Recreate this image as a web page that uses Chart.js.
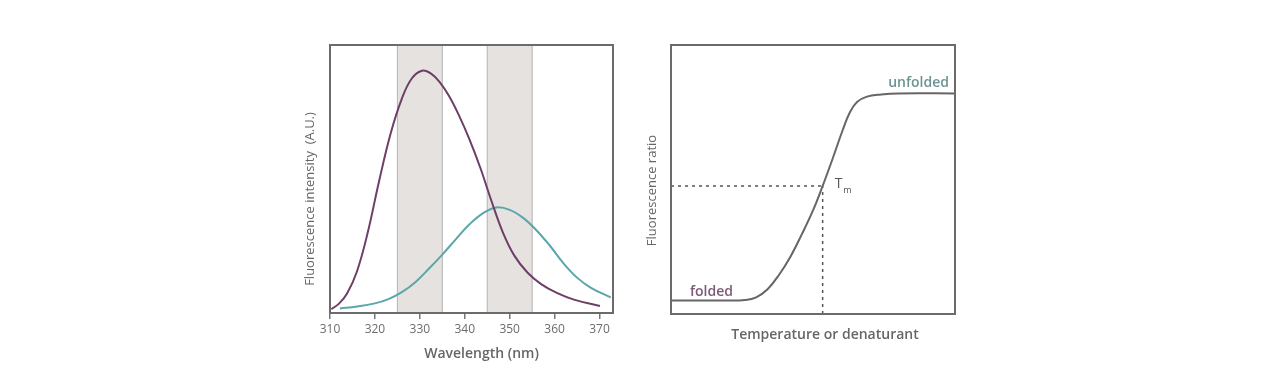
<!DOCTYPE html>
<html>
<head>
<meta charset="utf-8">
<script src="https://cdn.jsdelivr.net/npm/chart.js@4"></script>
<style>
  body { margin: 0; background: #fff; }
  #wrap { position: relative; width: 1270px; height: 379px; }
  #spectra { position: absolute; left: 0; top: 0; }
  #melt { position: absolute; left: 640px; top: 0; }
</style>
</head>
<body>
<div id="wrap">
  <canvas id="spectra" width="640" height="379"></canvas>
  <canvas id="melt" width="630" height="379"></canvas>
</div>
<script>
// left panel: emission spectra (nm, arbitrary units)
const wlTicks = [310, 320, 330, 340, 350, 360, 370];
const bands = [[325, 335], [345, 355]];
const foldedSpec = [
  [310.3, 0.014], [312, 0.035], [313.8, 0.073], [316, 0.155], [318.4, 0.3],
  [320.9, 0.49], [323.5, 0.67], [326, 0.8], [328.2, 0.875], [330.5, 0.904],
  [332.5, 0.893], [334.5, 0.86], [336.5, 0.81], [338.5, 0.745], [341, 0.65],
  [343.5, 0.54], [346, 0.415], [348.5, 0.3], [351, 0.215], [354, 0.15],
  [357, 0.108], [360.5, 0.075], [364.3, 0.05], [370.1, 0.026]
];
const unfoldedSpec = [
  [312.2, 0.017], [316, 0.024], [320, 0.036], [323, 0.052], [326, 0.078],
  [329, 0.115], [332, 0.165], [335, 0.218], [338, 0.275], [341, 0.33],
  [344, 0.372], [347, 0.394], [350, 0.385], [353, 0.355], [356, 0.308],
  [359, 0.25], [362, 0.185], [365, 0.132], [368, 0.095], [372.5, 0.058]
];

// right panel: melting curve (relative units)
const meltCurve = [
  [0, 0.05], [20, 0.05], [26, 0.052], [30, 0.062], [34, 0.092], [38, 0.145],
  [42, 0.212], [46, 0.295], [50, 0.385], [53.4, 0.476], [57, 0.58], [60.5, 0.685],
  [63, 0.75], [65.5, 0.788], [69, 0.808], [74, 0.816], [80, 0.82], [100, 0.82]
];
const tmX = 53.4;
const tmY = 0.476;

const pts = arr => arr.map(p => ({ x: p[0], y: p[1] }));
const boxColor = '#6b6b6b';

const boxPlugin = {
  id: 'box',
  beforeDatasetsDraw(chart, args, opts) {
    const ctx = chart.ctx, a = chart.chartArea, xs = chart.scales.x;
    (opts.bands || []).forEach(b => {
      const x0 = xs.getPixelForValue(b[0]), x1 = xs.getPixelForValue(b[1]);
      ctx.save();
      ctx.fillStyle = '#e6e2e0';
      ctx.fillRect(x0, a.top, x1 - x0, a.bottom - a.top);
      ctx.strokeStyle = '#b3b3b3';
      ctx.lineWidth = 1;
      ctx.beginPath();
      ctx.moveTo(x0, a.top); ctx.lineTo(x0, a.bottom);
      ctx.moveTo(x1, a.top); ctx.lineTo(x1, a.bottom);
      ctx.stroke();
      ctx.restore();
    });
  },
  afterDraw(chart, args, opts) {
    const ctx = chart.ctx, a = chart.chartArea;
    ctx.save();
    ctx.strokeStyle = boxColor;
    ctx.lineWidth = 2;
    ctx.strokeRect(a.left, a.top, a.right - a.left, a.bottom - a.top);
    ctx.fillStyle = '#666';
    // axis titles
    const xt = opts.xTitle, yt = opts.yTitle;
    ctx.font = xt.font;
    ctx.textAlign = 'center';
    ctx.textBaseline = 'middle';
    ctx.fillText(xt.text, (a.left + a.right) / 2 + xt.dx, a.bottom + xt.dy);
    ctx.font = yt.font;
    ctx.translate(a.left + yt.dx, (a.top + a.bottom) / 2 + yt.dy);
    ctx.rotate(-Math.PI / 2);
    ctx.fillText(yt.text, 0, 0);
    ctx.restore();
    (opts.labels || []).forEach(l => {
      const x = chart.scales.x.getPixelForValue(l.x) + (l.dx || 0);
      const y = chart.scales.y.getPixelForValue(l.y) + (l.dy || 0);
      ctx.save();
      ctx.font = l.font;
      ctx.fillStyle = l.color;
      ctx.textAlign = l.align || 'left';
      ctx.textBaseline = 'alphabetic';
      ctx.fillText(l.text, x, y);
      if (l.sub) {
        const w = ctx.measureText(l.text).width;
        ctx.font = l.subFont;
        ctx.fillText(l.sub, x + w + 1, y + 5);
      }
      ctx.restore();
    });
  }
};

new Chart(document.getElementById('spectra'), {
  type: 'line',
  data: {
    datasets: [
      { data: pts(foldedSpec), borderColor: '#6d3f67', borderWidth: 2 },
      { data: pts(unfoldedSpec), borderColor: '#5aa6aa', borderWidth: 2 }
    ]
  },
  options: {
    responsive: false,
    animation: false,
    layout: { padding: { left: 300, right: 27, top: 45, bottom: 0 } },
    elements: { point: { radius: 0 }, line: { tension: 0.4 } },
    plugins: {
      legend: { display: false },
      tooltip: { enabled: false },
      box: {
        bands: bands,
        xTitle: { text: 'Wavelength (nm)', font: '600 14px "Open Sans"', dx: 10, dy: 41 },
        yTitle: { text: 'Fluorescence intensity  (A.U.)', font: '13px "Open Sans"', dx: -20, dy: 20 }
      }
    },
    scales: {
      x: {
        type: 'linear', min: 310, max: 373,
        afterBuildTicks: s => { s.ticks = wlTicks.map(v => ({ value: v })); },
        afterFit: s => { s.height = 66; },
        grid: { drawOnChartArea: false, drawTicks: true, tickLength: 6, color: '#777', lineWidth: 1.5 },
        border: { display: false },
        ticks: { color: '#6c6c6c', font: { family: 'Open Sans', size: 12 }, padding: 3, maxRotation: 0 }
      },
      y: {
        min: 0, max: 1,
        afterFit: s => { s.width = 30; },
        grid: { display: false },
        border: { display: false },
        ticks: { display: false }
      }
    }
  },
  plugins: [boxPlugin]
});

new Chart(document.getElementById('melt'), {
  type: 'line',
  data: {
    datasets: [
      { data: pts(meltCurve), borderColor: '#666', borderWidth: 2 },
      { data: [{ x: 0, y: tmY }, { x: tmX, y: tmY }], borderColor: '#555', borderWidth: 1.5, borderDash: [3, 4], tension: 0 },
      { data: [{ x: tmX, y: 0 }, { x: tmX, y: tmY }], borderColor: '#555', borderWidth: 1.5, borderDash: [3, 4], tension: 0 }
    ]
  },
  options: {
    responsive: false,
    animation: false,
    layout: { padding: { left: 0, right: 315, top: 45, bottom: 0 } },
    elements: { point: { radius: 0 }, line: { tension: 0.4 } },
    plugins: {
      legend: { display: false },
      tooltip: { enabled: false },
      box: {
        xTitle: { text: 'Temperature or denaturant', font: '600 14px "Open Sans"', dx: 12, dy: 21 },
        yTitle: { text: 'Fluorescence ratio', font: '13px "Open Sans"', dx: -19, dy: 11 },
        labels: [
          { text: 'unfolded', x: 100, y: 0.82, dx: -6, dy: -6, align: 'right', color: '#6c9393', font: '600 14px "Open Sans"' },
          { text: 'folded', x: 0, y: 0.05, dx: 19, dy: -5, color: '#7b5a76', font: '600 14px "Open Sans"' },
          { text: 'T', sub: 'm', x: tmX, y: tmY, dx: 12, dy: 2, color: '#555', font: '14px "Open Sans"', subFont: '9px "Open Sans"' }
        ]
      }
    },
    scales: {
      x: {
        type: 'linear', min: 0, max: 100,
        afterFit: s => { s.height = 65; },
        grid: { display: false },
        border: { display: false },
        ticks: { display: false }
      },
      y: {
        min: 0, max: 1,
        afterFit: s => { s.width = 31; },
        grid: { display: false },
        border: { display: false },
        ticks: { display: false }
      }
    }
  },
  plugins: [boxPlugin]
});
</script>
</body>
</html>
